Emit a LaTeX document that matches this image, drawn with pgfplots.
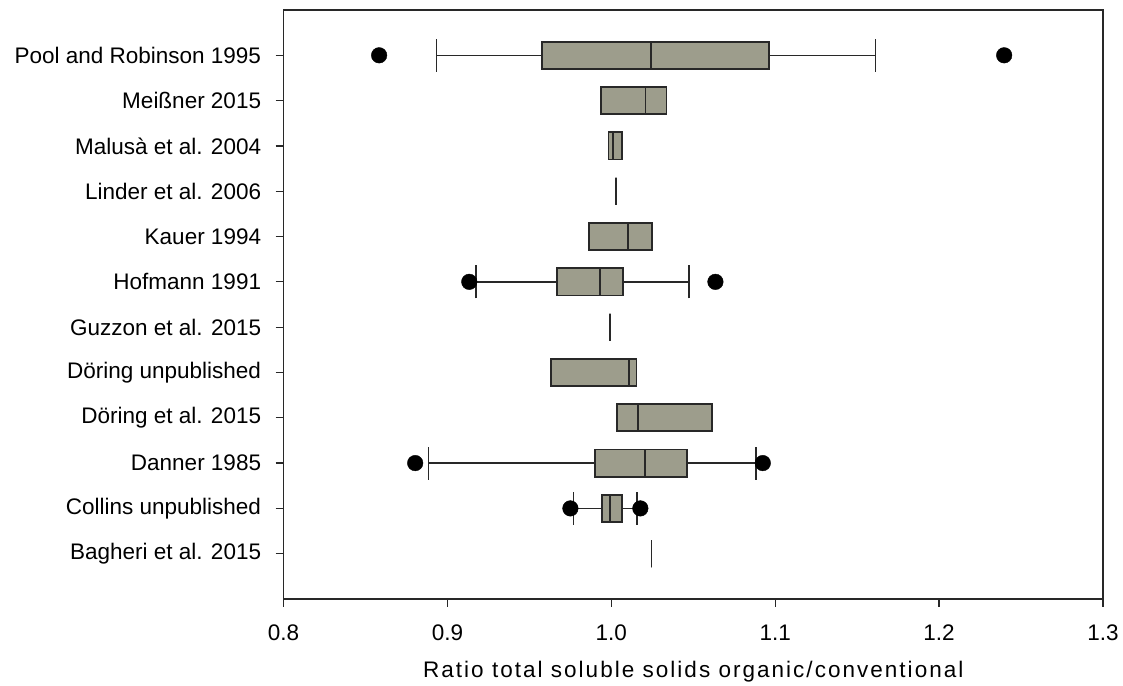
\documentclass[border=0pt]{standalone}
\usepackage{pgfplots}
\pgfplotsset{compat=1.18}
\usepgfplotslibrary{statistics}
\usepackage{fontspec}
\setmainfont{Liberation Sans}
\newfontfamily\titlefont{Liberation Sans}[LetterSpace=9]
\definecolor{boxfill}{RGB}{157,157,140}
\definecolor{edge}{RGB}{40,40,40}
\pgfplotsset{
  mybox/.style={solid, draw=edge, line width=1.6bp, mark=none,
    boxplot/box extend=0.6, boxplot/whisker extend=0.73,
    boxplot/every box/.style={fill=boxfill, draw=edge, line width=1.8bp},
    boxplot/every median/.style={draw=edge, line width=1.8bp},
    boxplot/every whisker/.style={draw=edge, line width=1.6bp}},
  nowhisk/.style={mybox, boxplot/whisker extend=0.6},
}
\begin{document}
\begin{tikzpicture}
\begin{axis}[
  scale only axis, width=819.4bp, height=589bp,
  xmin=0.8, xmax=1.3, ymin=0, ymax=13,
  xtick={0.8,0.9,1.0,1.1,1.2,1.3},
  ytick={1,2,3,4,5,6,7,8,9,10,11,12},
  yticklabels={Bagheri et al. 2015, Collins unpublished, Danner 1985, Döring et al. 2015, Döring unpublished, Guzzon et al. 2015, Hofmann 1991, Kauer 1994, Linder et al. 2006, Malusà et al. 2004, Meißner 2015, Pool and Robinson 1995},
  tick pos=left, tick align=outside, major tick length=8bp,
  tick style={line width=1.3bp, color=edge},
  axis line style={line width=1.5bp, color=edge},
  font=\fontsize{22.5bp}{27bp}\selectfont,
  yticklabel style={xshift=-11bp},
  xticklabel style={yshift=-14bp, /pgf/number format/.cd, fixed, fixed zerofill, precision=1, assume math mode=true},
  xlabel={\titlefont Ratio total soluble solids organic/conventional},
  xlabel style={yshift=-14bp},
  clip=false,
]
% Pool and Robinson 1995
\addplot[mybox, boxplot prepared={lower whisker=0.8933, lower quartile=0.9577, median=1.0240, upper quartile=1.0961, upper whisker=1.1611, draw position=12}] coordinates {};
% Meissner 2015
\addplot[nowhisk, boxplot prepared={lower whisker=0.9935, lower quartile=0.9935, median=1.0208, upper quartile=1.0336, upper whisker=1.0336, draw position=11}] coordinates {};
% Malusa 2004
\addplot[nowhisk, boxplot prepared={lower whisker=0.9982, lower quartile=0.9982, median=1.0008, upper quartile=1.0063, upper whisker=1.0063, draw position=10}] coordinates {};
% Linder 2006
\addplot[nowhisk, boxplot prepared={lower whisker=1.0029, lower quartile=1.0029, median=1.0029, upper quartile=1.0029, upper whisker=1.0029, draw position=9}] coordinates {};
% Kauer 1994
\addplot[nowhisk, boxplot prepared={lower whisker=0.9862, lower quartile=0.9862, median=1.0102, upper quartile=1.0249, upper whisker=1.0249, draw position=8}] coordinates {};
% Hofmann 1991
\addplot[mybox, boxplot prepared={lower whisker=0.9173, lower quartile=0.9668, median=0.9933, upper quartile=1.0071, upper whisker=1.0475, draw position=7}] coordinates {};
% Guzzon 2015
\addplot[nowhisk, boxplot prepared={lower whisker=0.9990, lower quartile=0.9990, median=0.9990, upper quartile=0.9990, upper whisker=0.9990, draw position=6}] coordinates {};
% Doering unpublished
\addplot[nowhisk, boxplot prepared={lower whisker=0.9633, lower quartile=0.9633, median=1.0106, upper quartile=1.0153, upper whisker=1.0153, draw position=5}] coordinates {};
% Doering 2015
\addplot[nowhisk, boxplot prepared={lower whisker=1.0035, lower quartile=1.0035, median=1.0163, upper quartile=1.0613, upper whisker=1.0613, draw position=4}] coordinates {};
% Danner 1985
\addplot[mybox, boxplot prepared={lower whisker=0.8884, lower quartile=0.9900, median=1.0206, upper quartile=1.0462, upper whisker=1.0884, draw position=3}] coordinates {};
% Collins unpublished
\addplot[mybox, boxplot prepared={lower whisker=0.9770, lower quartile=0.9943, median=0.9990, upper quartile=1.0065, upper whisker=1.0157, draw position=2}] coordinates {};
% Bagheri 2015
\addplot[nowhisk, boxplot prepared={lower whisker=1.0245, lower quartile=1.0245, median=1.0245, upper quartile=1.0245, upper whisker=1.0245, draw position=1}] coordinates {};
% outliers
\addplot[only marks, mark=*, mark size=7.8bp, black] coordinates {
 (0.8583,12) (1.2397,12) (0.9133,7) (1.0635,7) (0.8803,3) (1.0924,3) (0.9750,2) (1.0177,2)};
\end{axis}
\pgfresetboundingbox
\path ([xshift=-283.6bp, yshift=-87bp]current axis.south west) rectangle ([xshift=20bp, yshift=10bp]current axis.north east);
\end{tikzpicture}
\end{document}
